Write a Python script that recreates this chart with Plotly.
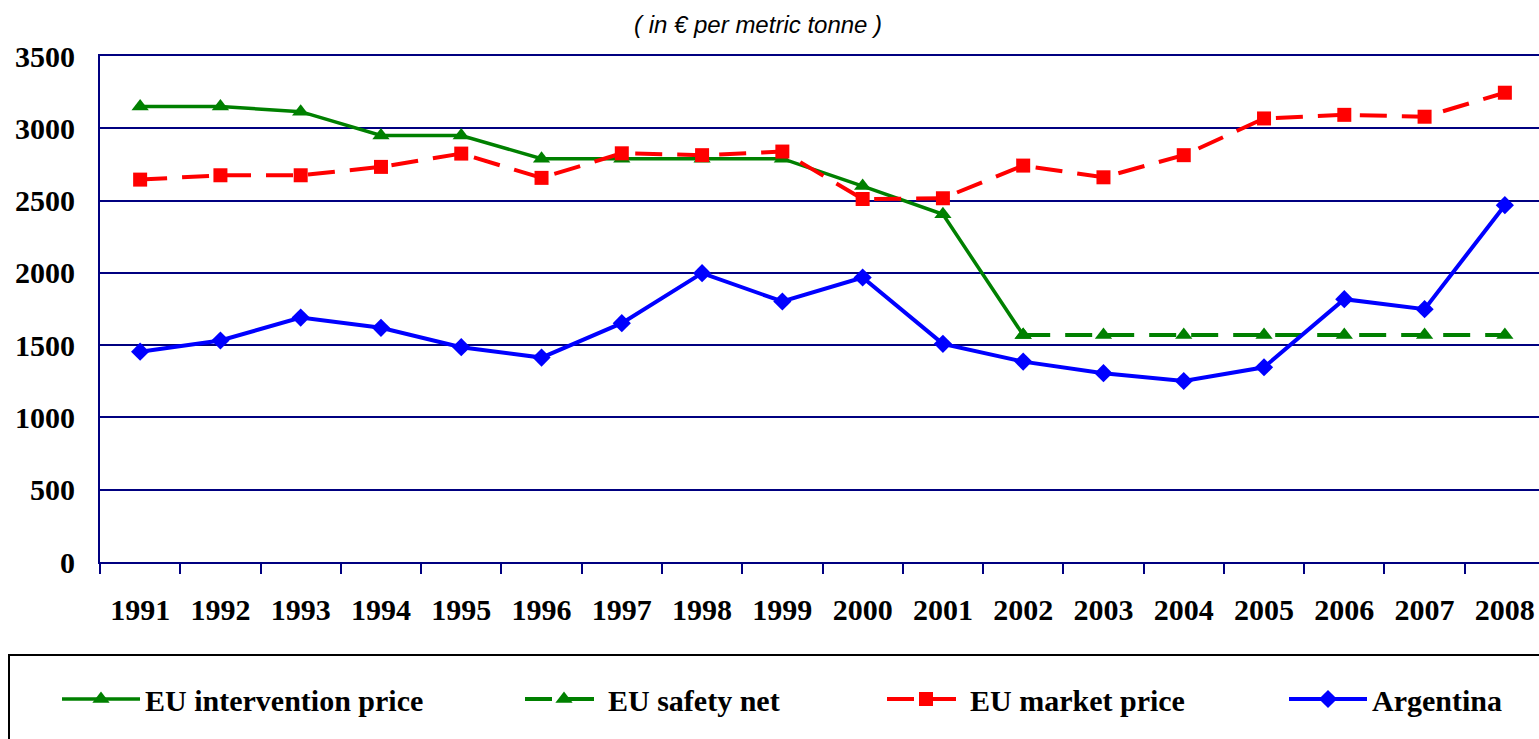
import plotly.graph_objects as go

years = [str(y) for y in range(1991, 2009)]
intervention = [3150, 3150, 3115, 2950, 2950, 2790, 2790, 2790, 2790, 2600, 2405, 1570,
                None, None, None, None, None, None]
safety_net = [None, None, None, None, None, None, None, None, None, None, None, 1570,
              1570, 1570, 1570, 1570, 1570, 1570]
market = [2645, 2675, 2675, 2733, 2825, 2657, 2827, 2814, 2839, 2511, 2516, 2742,
          2661, 2814, 3068, 3093, 3080, 3246]
argentina = [1455, 1532, 1691, 1620, 1486, 1414, 1652, 1998, 1802, 1968, 1509, 1386,
             1306, 1252, 1347, 1818, 1749, 2468]
y_ticks = [0, 500, 1000, 1500, 2000, 2500, 3000, 3500]

W, H = 1539, 739
L, R, T, B = 100, 0, 56, 177
PW, PH = W - L - R, H - T - B


def px(x):
    return (x - L) / PW


def py(y):
    return (H - B - y) / PH


NAVY = "#000080"
GREEN = "#008000"
RED = "#FF0000"
BLUE = "#0000FF"
SERIF = "Times New Roman, Liberation Serif, serif"

fig = go.Figure()
fig.add_trace(go.Scatter(x=years, y=intervention, name="EU intervention price", mode="lines+markers",
                         line=dict(color=GREEN, width=3.5),
                         marker=dict(symbol="triangle-up", size=15, color=GREEN),
                         legend="legend", connectgaps=False))
fig.add_trace(go.Scatter(x=years, y=safety_net, name="EU safety net", mode="lines+markers",
                         line=dict(color=GREEN, width=4, dash="27px,15px"),
                         marker=dict(symbol="triangle-up", size=15, color=GREEN),
                         legend="legend2"))
fig.add_trace(go.Scatter(x=years, y=market, name="EU market price", mode="lines+markers",
                         line=dict(color=RED, width=4, dash="27px,15px"),
                         marker=dict(symbol="square", size=14, color=RED),
                         legend="legend3"))
fig.add_trace(go.Scatter(x=years, y=argentina, name="Argentina", mode="lines+markers",
                         line=dict(color=BLUE, width=4),
                         marker=dict(symbol="diamond", size=14, color=BLUE),
                         legend="legend4"))

leg_font = dict(family=SERIF, size=30, color="black", weight="bold")
leg_y = py(699)


def leg(xpix):
    return dict(x=px(xpix), y=leg_y, xanchor="left", yanchor="middle", xref="paper", yref="paper",
                orientation="h", font=leg_font, bgcolor="rgba(0,0,0,0)", borderwidth=0,
                itemwidth=78, itemclick=False, itemdoubleclick=False)


fig.update_layout(
    width=W, height=H,
    margin=dict(l=L, r=R, t=T, b=B),
    paper_bgcolor="white", plot_bgcolor="white",
    showlegend=True,
    legend=leg(57), legend2=leg(520), legend3=leg(882), legend4=leg(1284),
    xaxis=dict(type="category", categoryorder="array", categoryarray=years,
               range=[-0.5, 17.5 - 6 / 80.3], showgrid=False, showline=True, mirror=True,
               linecolor=NAVY, linewidth=2, ticks="outside", tickson="boundaries", ticklen=10,
               tickwidth=2, tickcolor=NAVY,
               tickfont=dict(family=SERIF, size=30, color="black", weight="bold"),
               ticklabelstandoff=20, zeroline=False),
    yaxis=dict(range=[0, 3500], tickvals=y_ticks, showgrid=True, gridcolor=NAVY, gridwidth=2,
               showline=True, linecolor=NAVY, linewidth=2, ticks="", zeroline=False,
               tickfont=dict(family=SERIF, size=30, color="black", weight="bold"),
               ticklabelstandoff=17),
    shapes=[dict(type="rect", xref="paper", yref="paper", x0=px(9), x1=px(1600), y0=py(655), y1=py(800),
                 line=dict(color="black", width=2), fillcolor="rgba(0,0,0,0)", layer="below")],
    annotations=[dict(text="( in € per metric tonne )", xref="paper", yref="paper", x=px(758), y=py(25),
                      xanchor="center", yanchor="middle", showarrow=False,
                      font=dict(family="Arial, Liberation Sans, sans-serif", size=24, color="black",
                                style="italic"))],
)

fig.write_html("out.html", config={"displayModeBar": False},
               post_script="document.body.style.margin='0';document.body.style.overflow='hidden';")
